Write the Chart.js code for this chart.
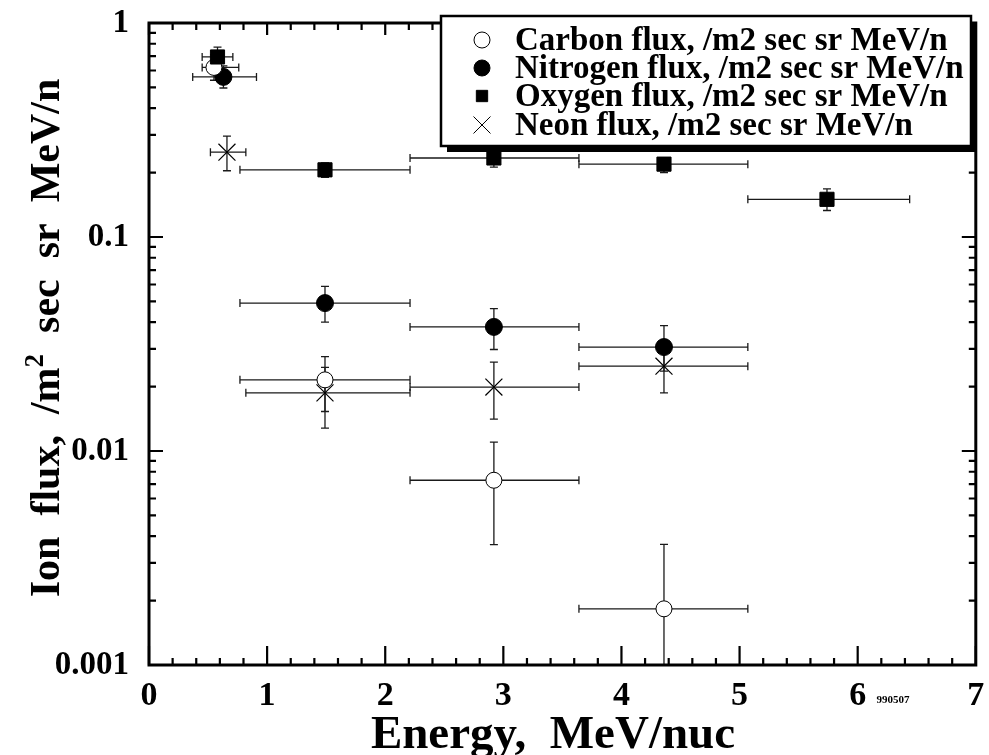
<!DOCTYPE html>
<html><head><meta charset="utf-8">
<script src="https://cdn.jsdelivr.net/npm/chart.js@4.4.1/dist/chart.umd.min.js"></script>
<style>html,body{margin:0;padding:0;background:#fff;}canvas{display:block}</style>
</head><body>
<canvas id="c" width="989" height="755"></canvas>
<script>
// ---- data ----
const seriesLabels = ['Carbon flux, /m2 sec sr MeV/n','Nitrogen flux, /m2 sec sr MeV/n','Oxygen flux, /m2 sec sr MeV/n','Neon flux, /m2 sec sr MeV/n'];

const carbonX   = [0.55, 1.49, 2.92, 4.36];
const carbonY   = [0.62, 0.0215, 0.0073, 0.00183];
const carbonYLo = [0.54, 0.0153, 0.00365, 0.0004];
const carbonYHi = [0.71, 0.0276, 0.0110, 0.00366];
const carbonXLo = [0.45, 0.77, 2.21, 3.64];
const carbonXHi = [0.76, 2.21, 3.64, 5.07];

const nitrogenX   = [0.63, 1.49, 2.92, 4.36];
const nitrogenY   = [0.56, 0.0491, 0.0380, 0.0306];
const nitrogenYLo = [0.497, 0.0400, 0.0298, 0.0236];
const nitrogenYHi = [0.63, 0.0588, 0.0463, 0.0385];
const nitrogenXLo = [0.37, 0.77, 2.21, 3.64];
const nitrogenXHi = [0.91, 2.21, 3.64, 5.07];

const oxygenX   = [0.58, 1.49, 2.92, 4.36, 5.74];
const oxygenY   = [0.694, 0.206, 0.234, 0.219, 0.150];
const oxygenYLo = [0.62, 0.190, 0.212, 0.200, 0.133];
const oxygenYHi = [0.772, 0.222, 0.248, 0.235, 0.168];
const oxygenXLo = [0.45, 0.77, 2.21, 3.64, 5.07];
const oxygenXHi = [0.71, 2.21, 3.64, 5.07, 6.44];

const neonX   = [0.66, 1.49, 2.92, 4.36];
const neonY   = [0.249, 0.0187, 0.0199, 0.0249];
const neonYLo = [0.204, 0.0128, 0.0141, 0.0187];
const neonYHi = [0.296, 0.0246, 0.0260, 0.031];
const neonXLo = [0.52, 0.82, 2.21, 3.64];
const neonXHi = [0.82, 2.21, 3.64, 5.07];

const xTickValues = [0, 1, 2, 3, 4, 5, 6, 7];
const yTickValues = [0.001, 0.01, 0.1, 1];
const yTickLabels = ['0.001', '0.01', '0.1', '1'];
const xTitle = 'Energy,  MeV/nuc';
const yTitleParts = ['Ion  flux,  /m', '2', '  sec  sr  MeV/n'];
const stampText = '990507';

const FONT = '"Liberation Serif", "Times New Roman", serif';

function pts(xs, ys, xlo, xhi, ylo, yhi) {
  return xs.map((x, i) => ({x: x, y: ys[i], xlo: xlo[i], xhi: xhi[i], ylo: ylo[i], yhi: yhi[i]}));
}

const datasets = [
  {label: seriesLabels[2], data: pts(oxygenX, oxygenY, oxygenXLo, oxygenXHi, oxygenYLo, oxygenYHi),
   pointStyle: 'rect', pointRadius: 10, backgroundColor: '#000', borderColor: '#000', borderWidth: 1},
  {label: seriesLabels[0], data: pts(carbonX, carbonY, carbonXLo, carbonXHi, carbonYLo, carbonYHi),
   pointStyle: 'circle', pointRadius: 8, backgroundColor: '#fff', borderColor: '#000', borderWidth: 1},
  {label: seriesLabels[1], data: pts(nitrogenX, nitrogenY, nitrogenXLo, nitrogenXHi, nitrogenYLo, nitrogenYHi),
   pointStyle: 'circle', pointRadius: 8.5, backgroundColor: '#000', borderColor: '#000', borderWidth: 1},
  {label: seriesLabels[3], data: pts(neonX, neonY, neonXLo, neonXHi, neonYLo, neonYHi),
   pointStyle: 'crossRot', pointRadius: 12, backgroundColor: '#000', borderColor: '#000', borderWidth: 1.2}
];
const legendOrder = [1, 2, 0, 3];

const errorBars = {
  id: 'errorBars',
  beforeDatasetsDraw(chart) {
    const ctx = chart.ctx, xs = chart.scales.x, ys = chart.scales.y, a = chart.chartArea;
    ctx.save();
    ctx.beginPath(); ctx.rect(a.left, a.top, a.right - a.left, a.bottom - a.top); ctx.clip();
    ctx.strokeStyle = '#1a1a1a'; ctx.lineWidth = 1.3;
    chart.data.datasets.forEach(ds => {
      ds.data.forEach(p => {
        const px = xs.getPixelForValue(p.x), py = ys.getPixelForValue(p.y);
        const x1 = xs.getPixelForValue(p.xlo), x2 = xs.getPixelForValue(p.xhi);
        const y1 = ys.getPixelForValue(p.ylo), y2 = ys.getPixelForValue(p.yhi);
        ctx.beginPath();
        ctx.moveTo(x1, py); ctx.lineTo(x2, py);
        ctx.moveTo(x1, py - 4); ctx.lineTo(x1, py + 4);
        ctx.moveTo(x2, py - 4); ctx.lineTo(x2, py + 4);
        ctx.moveTo(px, y1); ctx.lineTo(px, y2);
        ctx.moveTo(px - 4, y1); ctx.lineTo(px + 4, y1);
        ctx.moveTo(px - 4, y2); ctx.lineTo(px + 4, y2);
        ctx.stroke();
      });
    });
    ctx.restore();
  }
};

const frame = {
  id: 'frame',
  afterDraw(chart) {
    const ctx = chart.ctx, xs = chart.scales.x, ys = chart.scales.y, a = chart.chartArea;
    ctx.save();
    ctx.strokeStyle = '#000';
    ctx.lineWidth = 3;
    ctx.strokeRect(a.left, a.top, a.right - a.left, a.bottom - a.top);
    ctx.lineWidth = 2.2;
    ctx.beginPath();
    for (let i = 0; i <= 35; i++) {
      const v = i / 5, px = xs.getPixelForValue(v), major = i % 5 === 0;
      ctx.moveTo(px, a.bottom); ctx.lineTo(px, a.bottom - (major ? 19 : 7));
      ctx.moveTo(px, a.top); ctx.lineTo(px, a.top + (major ? 12 : 7));
    }
    for (let d = -3; d <= -1; d++) {
      for (let m = 1; m <= 9; m++) {
        const v = m * Math.pow(10, d), py = ys.getPixelForValue(v), major = m === 1;
        ctx.moveTo(a.left, py); ctx.lineTo(a.left + (major ? 14 : 7), py);
        ctx.moveTo(a.right, py); ctx.lineTo(a.right - (major ? 14 : 7), py);
      }
    }
    ctx.stroke();

    // axis titles
    ctx.fillStyle = '#000';
    ctx.font = 'bold 47px ' + FONT;
    ctx.textAlign = 'center'; ctx.textBaseline = 'alphabetic';
    ctx.fillText(xTitle, 553, 748);

    ctx.save();
    ctx.translate(59, 338);
    ctx.rotate(-Math.PI / 2);
    const big = 'bold 42px ' + FONT, small = 'bold 27px ' + FONT;
    ctx.font = big; const w0 = ctx.measureText(yTitleParts[0]).width, w2 = ctx.measureText(yTitleParts[2]).width;
    ctx.font = small; const w1 = ctx.measureText(yTitleParts[1]).width;
    let x0 = -(w0 + w1 + w2) / 2;
    ctx.textAlign = 'left';
    ctx.font = big; ctx.fillText(yTitleParts[0], x0, 0);
    ctx.font = small; ctx.fillText(yTitleParts[1], x0 + w0, -16);
    ctx.font = big; ctx.fillText(yTitleParts[2], x0 + w0 + w1, 0);
    ctx.restore();

    ctx.font = 'bold 11px ' + FONT;
    ctx.textAlign = 'center';
    ctx.fillText(stampText, 893, 703);

    // legend box with shadow
    const bx = 441, by = 16, bw = 530, bh = 130, sh = 6;
    ctx.fillStyle = '#000';
    ctx.fillRect(bx + sh, by + sh, bw, bh);
    ctx.fillStyle = '#fff';
    ctx.fillRect(bx, by, bw, bh);
    ctx.lineWidth = 2.5; ctx.strokeStyle = '#000';
    ctx.strokeRect(bx, by, bw, bh);
    const rows = [40, 68, 96, 125];
    ctx.font = 'bold 33px ' + FONT;
    ctx.textAlign = 'left'; ctx.textBaseline = 'middle';
    legendOrder.forEach((di, r) => {
      const ds = chart.data.datasets[di];
      ctx.fillStyle = ds.backgroundColor; ctx.strokeStyle = ds.borderColor; ctx.lineWidth = 1;
      const rad = ds.pointStyle === 'rect' ? 8 : (ds.pointStyle === 'crossRot' ? 12 : 8);
      Chart.helpers.drawPoint(ctx, {pointStyle: ds.pointStyle, radius: rad, rotation: 0, borderWidth: 1}, 482, rows[r]);
      ctx.fillStyle = '#000';
      ctx.fillText(ds.label, 515, rows[r] + 1);
    });
    ctx.restore();
  }
};

new Chart(document.getElementById('c'), {
  type: 'scatter',
  data: {datasets: datasets},
  options: {
    responsive: false, animation: false,
    layout: {padding: {left: 0, right: 8, top: 23, bottom: 0}},
    plugins: {legend: {display: false}, tooltip: {enabled: false}},
    scales: {
      x: {
        type: 'linear', min: 0, max: 7,
        grid: {display: false, drawTicks: false}, border: {display: false},
        afterBuildTicks: s => { s.ticks = xTickValues.map(v => ({value: v})); },
        ticks: {padding: 11, color: '#000', font: {family: FONT, size: 34, weight: 'bold'}, maxRotation: 0, autoSkip: false,
          callback: v => String(v)},
        afterFit: s => { s.height = 90; s.paddingLeft = 0; s.paddingRight = 0; }
      },
      y: {
        type: 'logarithmic', min: 0.001, max: 1,
        grid: {display: false, drawTicks: false}, border: {display: false},
        afterBuildTicks: s => { s.ticks = yTickValues.map(v => ({value: v})); },
        ticks: {padding: 20, color: '#000', font: {family: FONT, size: 33, weight: 'bold'}, autoSkip: false,
          callback: (v) => { const i = yTickValues.findIndex(t => Math.abs(t - v) / t < 1e-6); return i >= 0 ? yTickLabels[i] : ''; }},
        afterFit: s => { s.width = 149; s.paddingTop = 0; s.paddingBottom = 0; }
      }
    }
  },
  plugins: [errorBars, frame]
});
</script>
</body></html>
